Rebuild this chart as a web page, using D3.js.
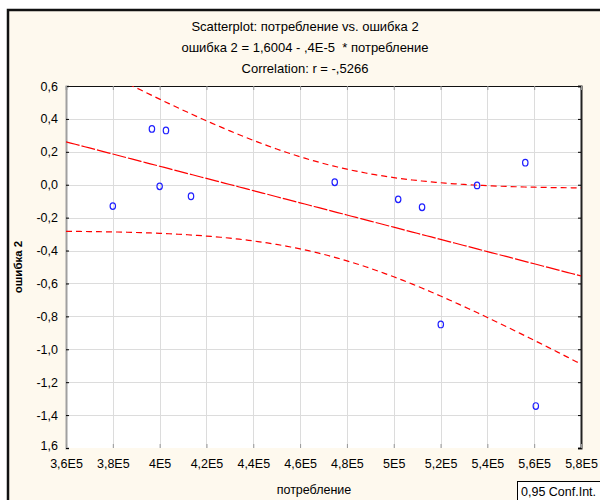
<!DOCTYPE html>
<html>
<head>
<meta charset="utf-8">
<script src="https://cdn.jsdelivr.net/npm/d3@7"></script>
<style>
  html,body{margin:0;padding:0;background:#fff;}
  svg{display:block;font-family:"Liberation Sans",Arial,sans-serif;}
  text{white-space:pre;}
</style>
</head>
<body>
<div id="chart"></div>
<script>
// Werte
const consumption = [380000, 396700, 402700, 400000, 413400, 474800, 501900, 512100, 535600, 556200, 520100, 560700];
const error2      = [-0.13, 0.339, 0.33, -0.01, -0.07, 0.015, -0.089, -0.137, -0.004, 0.134, -0.849, -1.345];

const xTicks = [360000,380000,400000,420000,440000,460000,480000,500000,520000,540000,560000,580000];
const xTickLabels = ["3,6E5","3,8E5","4E5","4,2E5","4,4E5","4,6E5","4,8E5","5E5","5,2E5","5,4E5","5,6E5","5,8E5"];
const yTicks = [0.6,0.4,0.2,0,-0.2,-0.4,-0.6,-0.8,-1,-1.2,-1.4,-1.6];
const yTickLabels = ["0,6","0,4","0,2","0,0","-0,2","-0,4","-0,6","-0,8","-1,0","-1,2","-1,4","1,6"];

const titleLines = ["Scatterplot: потребление vs. ошибка 2",
  "ошибка 2 = 1,6004 - ,4E-5  * потребление",
  "Correlation: r = -,5266"];

const W=600, H=500, m={l:66,r:19,t:86,b:52};
const svg = d3.select("#chart").append("svg").attr("width",W).attr("height",H);

// Hintergrund + Rahmen
svg.append("rect").attr("x",8).attr("y",10).attr("width",W-8).attr("height",H-10).attr("fill","#fef9ee");
svg.append("path").attr("d",`M8,${H} V10 H${W}`).attr("fill","none").attr("stroke","#111").attr("stroke-width",2.5);

const x = d3.scaleLinear().domain([360000,580000]).range([m.l, W-m.r]);
const y = d3.scaleLinear().domain([-1.6,0.6]).range([H-m.b, m.t]);
const [x0,x1] = x.range(), [y1,y0] = y.range();

svg.append("rect").attr("x",x0).attr("y",y0).attr("width",x1-x0).attr("height",y1-y0).attr("fill","#fff");

// Gitter
const grid = svg.append("g").attr("stroke","#dcdcdc").attr("stroke-width",1);
grid.selectAll(".gx").data(xTicks.slice(1,-1)).join("line")
  .attr("x1",d=>Math.round(x(d))+.5).attr("x2",d=>Math.round(x(d))+.5).attr("y1",y0).attr("y2",y1);
grid.selectAll(".gy").data(yTicks.slice(1,-1)).join("line")
  .attr("y1",d=>Math.round(y(d))+.5).attr("y2",d=>Math.round(y(d))+.5).attr("x1",x0).attr("x2",x1);

// Achsen
const axL = d3.axisLeft(y).tickValues(yTicks).tickSize(-3).tickPadding(8).tickFormat((d,i)=>yTickLabels[i]);
svg.append("g").attr("transform",`translate(${x0},0)`).call(axL)
  .call(g=>g.select(".domain").attr("stroke","#a0a0a0").attr("stroke-width",2))
  .call(g=>g.selectAll(".tick line").attr("stroke","#000"))
  .call(g=>g.selectAll(".tick text").attr("font-size",12.5).attr("fill","#000").attr("font-family","Liberation Sans, Arial"))
  .call(g=>g.select(".tick:last-of-type text").attr("dy","0.1em"));
const axR = d3.axisRight(y).tickValues(yTicks).tickSize(-3).tickFormat("");
svg.append("g").attr("transform",`translate(${x1},0)`).call(axR)
  .call(g=>g.select(".domain").attr("stroke","#222").attr("stroke-width",2))
  .call(g=>g.selectAll(".tick line").attr("stroke","#000"));
const axB = d3.axisBottom(x).tickValues(xTicks).tickSize(-4).tickPadding(11).tickFormat((d,i)=>xTickLabels[i]);
svg.append("g").attr("transform",`translate(0,${y1})`).call(axB)
  .call(g=>g.select(".domain").remove())
  .call(g=>g.selectAll(".tick line").attr("stroke","#999"))
  .call(g=>g.selectAll(".tick text").attr("font-size",12.5).attr("fill","#000").attr("font-family","Liberation Sans, Arial"));
const axT = d3.axisTop(x).tickValues(xTicks).tickSize(-4).tickFormat("");
svg.append("g").attr("transform",`translate(0,${y0})`).call(axT)
  .call(g=>g.select(".domain").attr("stroke","#111").attr("stroke-width",1.2))
  .call(g=>g.selectAll(".tick line").attr("stroke","#999"));

// Regression + 95%-Konfidenzband, aus den Daten gerechnet
const n = consumption.length;
const mx = d3.mean(consumption), my = d3.mean(error2);
const sxx = d3.sum(consumption, v=>(v-mx)**2);
const sxy = d3.sum(consumption, (v,i)=>(v-mx)*(error2[i]-my));
const b = sxy/sxx, a = my - b*mx;
const s = Math.sqrt(d3.sum(consumption,(v,i)=>(error2[i]-a-b*v)**2)/(n-2));
const t = 2.228;
const xs = d3.range(360000, 580001, 2000);
const half = v => t*s*Math.sqrt(1/n + (v-mx)**2/sxx);

svg.append("clipPath").attr("id","clip").append("rect").attr("x",x0).attr("y",y0).attr("width",x1-x0).attr("height",y1-y0);
const lines = svg.append("g").attr("clip-path","url(#clip)").attr("fill","none").attr("stroke","#f00").attr("stroke-width",1.2);
const ln = d3.line().x(d=>x(d[0])).y(d=>y(d[1]));
lines.append("path").attr("d",ln(xs.map(v=>[v,a+b*v]))).attr("stroke-dasharray","14,2");
lines.append("path").attr("d",ln(xs.map(v=>[v,a+b*v+half(v)]))).attr("stroke-dasharray","6,4");
lines.append("path").attr("d",ln(xs.map(v=>[v,a+b*v-half(v)]))).attr("stroke-dasharray","6,4");

// Punkte
svg.append("g").selectAll("ellipse").data(consumption).join("ellipse")
  .attr("cx",d=>x(d)).attr("cy",(d,i)=>y(error2[i])).attr("rx",2.7).attr("ry",3.3)
  .attr("fill","none").attr("stroke","#1f1fff").attr("stroke-width",1.2);

// Titel
svg.append("g").selectAll("text").data(titleLines).join("text")
  .attr("x",305).attr("y",(d,i)=>31+i*21).attr("text-anchor","middle")
  .attr("font-size",13).attr("fill","#000").text(d=>d);

// Achsentitel
svg.append("text").attr("x",314).attr("y",494).attr("text-anchor","middle")
  .attr("font-size",12.5).text("потребление");
svg.append("text").attr("transform","translate(22,267) rotate(-90)").attr("text-anchor","middle")
  .attr("font-size",11.5).attr("font-weight","bold").text("ошибка 2");

// Legende
svg.append("rect").attr("x",517.5).attr("y",481.5).attr("width",90).attr("height",25).attr("fill","#fff").attr("stroke","#000");
svg.append("text").attr("x",521).attr("y",496).attr("font-size",12.5).text("0,95 Conf.Int.");
</script>
</body>
</html>
